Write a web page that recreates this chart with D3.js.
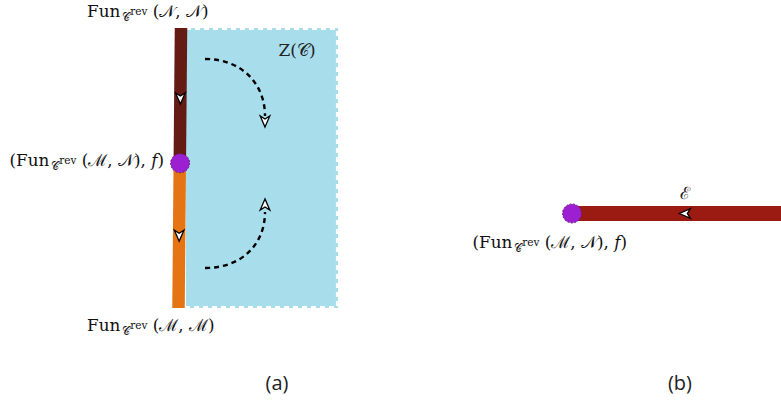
<!DOCTYPE html>
<html><head><meta charset="utf-8">
<script src="https://cdn.jsdelivr.net/npm/d3@7"></script>
<style>
html,body{margin:0;padding:0;background:#fff;}
svg{display:block;}
</style></head>
<body>
<svg id="c" width="781" height="402"></svg>
<script>
// ---- data (abstract diagram coordinates, 0..1 along each strip) ----
const panelLabels = ["(a)", "(b)"];
const stripSegments = ["Fun(N,N)", "Fun(M,N)", "Fun(M,M)"];
const segmentStops = [0, 0.483, 1];          // brown part, orange part along vertical strip
const stripArrowsAt = [0.25, 0.74];           // down arrows on vertical strip
const flowCurves = ["down", "up"];            // dashed arrows in Z(C)
const horizArrowAt = [0.52];                  // arrow on horizontal edge (b)
const pointLabel = ["(Fun", "𝒞", "rev", " (ℳ, 𝒩), ", "f", ")"];
const topLabel = ["Fun", "𝒞", "rev", " (𝒩, 𝒩)"];
const bottomLabel = ["Fun", "𝒞", "rev", " (ℳ, ℳ)"];

const svg = d3.select("#c");

// scales for panel (a)
const ya = d3.scaleLinear().domain([0, 1]).range([28, 308]);
const xa = d3.scaleLinear().domain([0, 1]).range([181, 178.5]); // slight slant of the strip
const xr = d3.scaleLinear().domain([0, 1]).range([186, 338]);   // region Z(C)
// scales for panel (b)
const xb = d3.scaleLinear().domain([0, 1]).range([572, 790]);
const yb = 213.5;

const C = {
  blue: "#a8ddec", brown: "#631b14", orange: "#e57514",
  red: "#9b1b13", purple: "#9c1fd2", purpleEdge: "#6b1d70"
};
const serif = "'DejaVu Serif', 'Liberation Serif', serif";

// region Z(C)
svg.append("rect")
  .attr("x", xr(0)).attr("y", ya(0))
  .attr("width", xr(1) - xr(0)).attr("height", ya(1) - ya(0))
  .attr("fill", C.blue);
svg.append("path")
  .attr("d", `M${xr(0)},${ya(0) + 1} L${xr(1) - 1},${ya(0) + 1} L${xr(1) - 1},${ya(1) - 1} L${xr(0)},${ya(1) - 1}`)
  .attr("fill", "none").attr("stroke", "#fff").attr("stroke-width", 2.2)
  .attr("stroke-dasharray", "5,4");

// vertical strip segments
const segColors = [C.brown, C.orange];
for (let i = 0; i < segmentStops.length - 1; i++) {
  const t0 = segmentStops[i], t1 = segmentStops[i + 1];
  svg.append("line")
    .attr("x1", xa(t0)).attr("y1", ya(t0))
    .attr("x2", xa(t1)).attr("y2", ya(t1))
    .attr("stroke", segColors[i]).attr("stroke-width", 12.5);
}

function arrowHead(g, x, y, angle, s) {
  s = s || 1;
  g.append("path")
    .attr("d", "M6,0 L-5,-4.8 L-2,0 L-5,4.8 Z")
    .attr("transform", `translate(${x},${y}) rotate(${angle}) scale(${s})`)
    .attr("fill", "#fff").attr("stroke", "#000").attr("stroke-width", 1.3)
    .attr("stroke-linejoin", "miter");
}
stripArrowsAt.forEach(t => arrowHead(svg, xa(t), ya(t), 90));

flowCurves.forEach(dir => {
  let d, tip, ang;
  if (dir === "down") {
    d = `M205,59 C242,59 265,84 265,116`;
    tip = [265, 121]; ang = 90;
  } else {
    d = `M205,268 C242,268 265,244 265,212`;
    tip = [265, 205]; ang = -90;
  }
  svg.append("path").attr("d", d).attr("fill", "none")
    .attr("stroke", "#000").attr("stroke-width", 2.4)
    .attr("stroke-dasharray", "5,4");
  arrowHead(svg, tip[0], tip[1], ang);
});

function dot(x, y) {
  svg.append("circle").attr("cx", x).attr("cy", y).attr("r", 9.5)
    .attr("fill", C.purple).attr("stroke", C.purpleEdge)
    .attr("stroke-width", 1).attr("stroke-dasharray", "2,1.5");
}
dot(xa(segmentStops[1]) + 0.3, ya(segmentStops[1]));

function funLabel(parts, x, y, anchor) {
  const t = svg.append("text").attr("x", x).attr("y", y)
    .attr("font-family", serif).attr("font-size", 16.8)
    .attr("fill", "#111").attr("text-anchor", anchor || "start");
  parts.forEach((p, i) => {
    const ts = t.append("tspan").text(p);
    if (p === "𝒞") ts.attr("font-size", 11).attr("dy", 4).attr("dx", 2);
    else if (p === "rev") ts.attr("font-size", 10.5).attr("dy", -6.5);
    else if (i > 0 && parts[i - 1] === "rev") ts.attr("dy", 2.5);
    if (p === "f") ts.attr("font-style", "italic");
  });
  return t;
}
funLabel(topLabel, 87, 17);
funLabel(bottomLabel, 87, 331);
funLabel(pointLabel, 164, 166, "end");

svg.append("text").attr("x", 297).attr("y", 56)
  .attr("font-family", serif).attr("font-size", 17)
  .attr("fill", "#222").attr("text-anchor", "middle").text("Z(𝒞)");

// panel (b): horizontal edge
svg.append("line").attr("x1", xb(0)).attr("y1", yb).attr("x2", xb(1)).attr("y2", yb)
  .attr("stroke", C.red).attr("stroke-width", 15);
horizArrowAt.forEach(t => arrowHead(svg, xb(t), yb, 180));
svg.append("text").attr("x", xb(horizArrowAt[0])).attr("y", 199)
  .attr("font-family", serif).attr("font-size", 17).attr("fill", "#222")
  .attr("text-anchor", "middle").text("ℰ");
dot(xb(0), yb);
funLabel(pointLabel, 627, 248, "end");

const capX = [277, 680];
panelLabels.forEach((p, i) => {
  svg.append("text").attr("x", capX[i]).attr("y", 390)
    .attr("font-family", "'Open Sans', 'Noto Sans', sans-serif").attr("font-size", 20)
    .attr("fill", "#222").attr("text-anchor", "middle").text(p);
});
</script>
</body></html>
